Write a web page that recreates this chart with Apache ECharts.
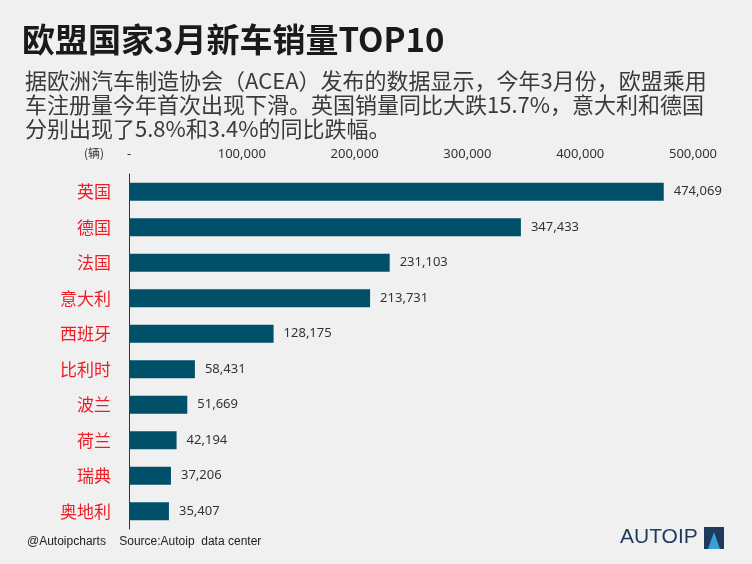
<!DOCTYPE html>
<html><head><meta charset="utf-8">
<script src="https://cdn.jsdelivr.net/npm/echarts@6/dist/echarts.min.js"></script>
<style>html,body{margin:0;padding:0;background:#f0f0f0}#c{width:752px;height:564px}</style>
</head><body><div id="c"></div>
<script>
const categories = ['英国','德国','法国','意大利','西班牙','比利时','波兰','荷兰','瑞典','奥地利'];
const sales = [474069, 347433, 231103, 213731, 128175, 58431, 51669, 42194, 37206, 35407];
const tickValues = [0, 100000, 200000, 300000, 400000, 500000];
const titleText = '欧盟国家3月新车销量TOP10';
const subtitleLines = ['据欧洲汽车制造协会（ACEA）发布的数据显示，今年3月份，欧盟乘用','车注册量今年首次出现下滑。英国销量同比大跌15.7%，意大利和德国','分别出现了5.8%和3.4%的同比跌幅。'];
const unitText = '(辆)';
const footerText = '@Autoipcharts    Source:Autoip  data center';

const fmt = v => v === 0 ? '-' : v.toLocaleString('en-US');
const chart = echarts.init(document.getElementById('c'));
const CJK = '"Noto Sans CJK SC", "Noto Sans", sans-serif';
chart.setOption({
  backgroundColor: '#f0f0f0',
  animation: false,
  grid: {left: 129, right: 59, top: 174, bottom: 35},
  xAxis: {
    type: 'value', position: 'top', min: 0, max: 500000, interval: 100000,
    axisLine: {show: false}, axisTick: {show: false}, splitLine: {show: false},
    axisLabel: {formatter: fmt, color: '#333', fontSize: 13, fontFamily: '"Noto Sans", sans-serif', margin: 13}
  },
  yAxis: {
    type: 'category', inverse: true, data: categories,
    axisLine: {show: true, lineStyle: {color: '#333', width: 1}},
    axisTick: {show: false},
    axisLabel: {color: '#ee1c25', fontSize: 17, fontFamily: CJK, margin: 18}
  },
  series: [{
    type: 'bar', data: sales, barWidth: 18,
    itemStyle: {color: '#00506a'},
    label: {show: true, position: 'right', distance: 10, color: '#333', fontSize: 13,
      fontFamily: '"Noto Sans", sans-serif', formatter: p => fmt(p.value)}
  }],
  graphic: [
    {type: 'text', left: 22, top: 23, style: {text: titleText, font: 'bold 33px ' + CJK, fill: '#1a1a1a'}},
    ...subtitleLines.map((t, i) => ({type: 'text', left: 25, top: 70 + i * 24, style: {text: t, font: '22px ' + CJK, fill: '#3a3a3a'}})),
    {type: 'text', left: 84, top: 147, style: {text: unitText, font: '12px ' + CJK, fill: '#333'}},
    {type: 'text', left: 27, top: 536, style: {text: footerText, font: '12px "Liberation Sans", Arial, sans-serif', fill: '#222'}},
    {type: 'text', left: 620, top: 527, style: {text: 'AUTOIP', font: '21px "Liberation Sans", Arial, sans-serif', fill: '#1f3a5c'}},
    {type: 'rect', left: 704, top: 527, shape: {width: 20, height: 22}, style: {fill: '#1f3a5c'}},
    {type: 'polygon', shape: {points: [[708, 549], [714, 532], [720, 549]]}, style: {fill: '#3aa0d8'}}
  ]
});
</script></body></html>
